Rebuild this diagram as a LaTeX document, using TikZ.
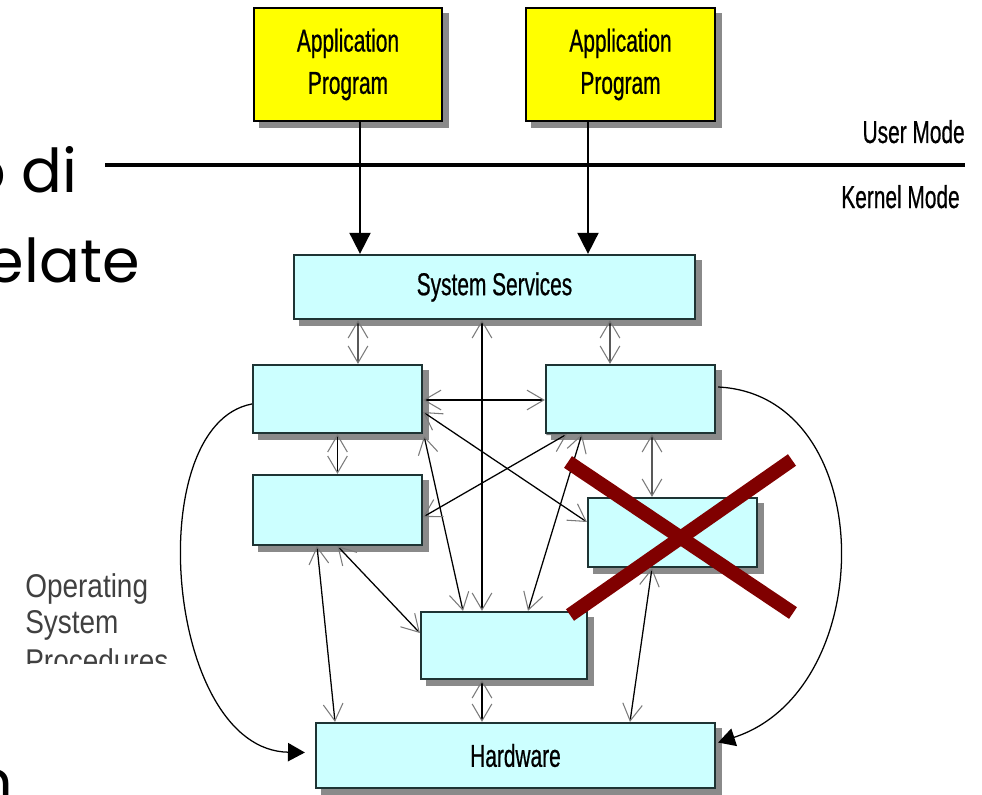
\documentclass[tikz,border=0pt]{standalone}
\usepackage{fontspec}
\setmainfont{Liberation Sans}
\newfontfamily\narrowfont[FakeStretch=0.66,FakeBold=0.6]{Liberation Sans}
\newfontfamily\opfont[FakeStretch=0.85]{Liberation Sans}
\newfontfamily\slidefont{Poppins}
\usetikzlibrary{arrows.meta,backgrounds,calc}
\definecolor{boxcyan}{HTML}{CCFFFF}
\definecolor{appyellow}{HTML}{FFFF00}
\definecolor{shadowgray}{HTML}{8A8A8A}
\definecolor{boxedge}{HTML}{1E3434}
\definecolor{crossred}{HTML}{800000}
\definecolor{tipgray}{HTML}{7A7A7A}
\tikzset{
  cbox/.style={draw=boxedge, line width=1.6pt, fill=boxcyan, inner sep=0pt, align=center},
  ybox/.style={draw=black, line width=1.6pt, fill=appyellow, inner sep=0pt, align=center},
  boxlabel/.style={font=\narrowfont\fontsize{22.5}{30}\selectfont},
  modelabel/.style={font=\narrowfont\fontsize{22.5}{26}\selectfont, inner sep=0pt},
  oplabel/.style={font=\opfont\fontsize{23.4}{25.5}\selectfont, text=black!75, inner sep=0pt, anchor=base west},
  slidetext/.style={font=\slidefont\fontsize{43}{50}\selectfont, inner sep=0pt},
  conn/.style={line width=0.9pt, draw=black},
  barb/.tip={Straight Barb[length=12pt,width=14pt,line width=0.75pt,color=tipgray]},
  biarrow/.style={conn, barb-barb},
  bigarrow/.style={line width=1.3pt, -{Triangle[length=15pt,width=15pt]}},
  curvearrow/.style={line width=0.9pt, -{Triangle[length=12pt,width=13pt]}},
}
\begin{document}
\begin{tikzpicture}[x=0.025cm,y=-0.025cm]
\useasboundingbox (0,0) rectangle (982,795);
\clip (0,0) rectangle (982,795);

% background slide text
\node[slidetext, anchor=base east] (t1) at (78,193) {o di};
\node[slidetext, anchor=base east] (t2) at (140,282) {elate};
\node[slidetext, anchor=base east] (t3) at (13,803) {n};

% mode line and labels
\coordinate (ml) at (105,165);
\coordinate (mr) at (965,165);
\draw[line width=2.8pt] (ml) -- (mr);
\node[modelabel, anchor=base east] (um) at (965,143) {User Mode};
\node[modelabel, anchor=base east] (km) at (960,208) {Kernel Mode};

% boxes
\node[ybox, minimum width=188*0.025cm, minimum height=113*0.025cm, boxlabel] (App1) at (348,64.5) {Application\\Program};
\node[ybox, minimum width=189*0.025cm, minimum height=113*0.025cm, boxlabel] (App2) at (620.5,64.5) {Application\\Program};
\node[cbox, minimum width=401*0.025cm, minimum height=64*0.025cm, boxlabel] (SS) at (494.5,287) {System Services};
\node[cbox, minimum width=169*0.025cm, minimum height=68*0.025cm] (A) at (337.5,399) {};
\node[cbox, minimum width=169*0.025cm, minimum height=68*0.025cm] (B) at (630.5,399) {};
\node[cbox, minimum width=169*0.025cm, minimum height=70*0.025cm] (C) at (337.5,510) {};
\node[cbox, minimum width=169*0.025cm, minimum height=69*0.025cm] (D) at (672.5,532.5) {};
\node[cbox, minimum width=166*0.025cm, minimum height=67*0.025cm] (E) at (504,645.5) {};
\node[cbox, minimum width=399*0.025cm, minimum height=65*0.025cm, boxlabel] (HW) at (515.5,755.5) {Hardware};

\begin{scope}[on background layer]
\foreach \n in {App1,App2,SS,A,B,C,D,E,HW}
  \fill[shadowgray] ([xshift=4.5pt,yshift=-4.5pt]\n.south west) rectangle ([xshift=4.5pt,yshift=-4.5pt]\n.north east);
\end{scope}

% side label
\node[oplabel] (op1) at (25,597) {Operating};
\node[oplabel] (op2) at (25,633) {System};
\begin{scope}
\clip (0,640) rectangle (175,663);
\node[oplabel] (op3) at (25,672) {Procedures};
\end{scope}

% application arrows
\draw[bigarrow] ($(App1.south)+(12,0)$) -- ($(SS.north)+(-134.5,0)$);
\draw[bigarrow] ($(App2.south)+(-32.5,0)$) -- ($(SS.north)+(93.5,0)$);

% connectors
\draw[biarrow] ($(SS.south)+(-136.5,0)$) -- ($(A.north)+(20.5,0)$);
\draw[biarrow] ($(SS.south)+(-12.5,0)$) -- ($(E.north)+(-22,0)$);
\draw[biarrow] ($(SS.south)+(115.5,0)$) -- ($(B.north)+(-20.5,0)$);
\draw[biarrow] ($(A.east)+(0,1)$) -- ($(B.west)+(0,1)$);
\draw[biarrow] (A.south) -- (C.north);
\draw[biarrow] ($(A.east)+(0,13)$) -- ($(D.west)+(0,-10.5)$);
\draw[biarrow] ($(A.south east)+(1,2)$) -- ($(E.north)+(-41,0)$);
\draw[biarrow] ($(B.south west)+(22,0)$) -- ($(C.east)+(0,7)$);
\draw[biarrow] ($(B.south west)+(37,0)$) -- ($(E.north)+(24,0)$);
\draw[biarrow] ($(B.south)+(21.5,0)$) -- ($(D.north)+(-20.5,0)$);
\draw[biarrow] ($(D.south)+(-20.5,0)$) -- ($(HW.north)+(114.5,0)$);
\draw[biarrow] ($(C.south)+(-20.5,0)$) -- ($(HW.north)+(-180.5,0)$);
\draw[biarrow] (C.south) -- ($(E.west)+(0,-12.5)$);
\draw[biarrow] ($(E.south)+(-22,0)$) -- ($(HW.north)+(-33.5,0)$);

% curved arrows
\draw[curvearrow] ($(A.west)+(0,5)$) .. controls (140,425) and (165,750) .. ($(HW.west)+(-10,-3)$);
\draw[curvearrow] ($(B.east)+(2,-12)$) .. controls (880,395) and (880,690) .. ($(HW.east)+(2,-13)$);

% red cross
\draw[crossred, line width=10pt] (568,462) -- (793,613);
\draw[crossred, line width=10pt] (792,460) -- (570,615);
\end{tikzpicture}
\end{document}
